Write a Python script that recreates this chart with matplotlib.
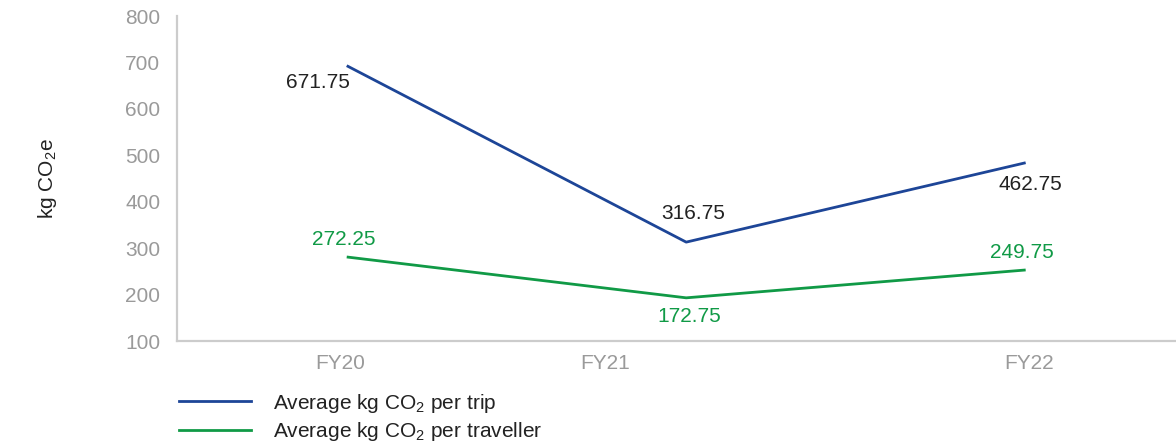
import matplotlib

matplotlib.use("Agg")

import matplotlib.pyplot as plt
import numpy as np
from matplotlib.lines import Line2D

plt.rcParams.update(
    {
        "font.family": ["Liberation Sans", "DejaVu Sans"],
        "font.size": 15,
        "mathtext.default": "regular",
    }
)

# data
years = ["FY20", "FY21", "FY22"]
trip_line = [693, 313, 484]          # where the blue line is drawn
traveller_line = [281, 193, 253]     # where the green line is drawn
trip_labels = [671.75, 316.75, 462.75]
traveller_labels = [272.25, 172.75, 249.75]

BLUE = "#1d4597"
GREEN = "#109a46"
GRID = "#cccccc"
TICK = "#9a9a9a"
TEXT = "#222222"
FS = 15

fig = plt.figure(figsize=(11.76, 4.46), dpi=100)
ax = fig.add_axes([0.1505, 0.2354, 0.866, 0.7287])

x = np.arange(len(years))
ax.plot(x, trip_line, color=BLUE, lw=2.0, solid_capstyle="butt")
ax.plot(x, traveller_line, color=GREEN, lw=2.0, solid_capstyle="butt")

# label offsets in pixels (dx, dy), alignment
trip_off = [((3, -17), "right"), ((7, 29), "center"), ((5, -22), "center")]
trav_off = [((-3, 17), "center"), ((3, -19), "center"), ((-4, 17), "center")]
for xi, yv, lab, (off, ha) in zip(x, trip_line, trip_labels, trip_off):
    ax.annotate(f"{lab:.2f}", (xi, yv), xytext=off, textcoords="offset pixels",
                ha=ha, va="center", color=TEXT, fontsize=FS)
for xi, yv, lab, (off, ha) in zip(x, traveller_line, traveller_labels, trav_off):
    ax.annotate(f"{lab:.2f}", (xi, yv), xytext=off, textcoords="offset pixels",
                ha=ha, va="center", color=GREEN, fontsize=FS)

ax.set_xlim(-0.5, 2.5)
ax.set_ylim(100, 800)
ax.set_yticks(range(100, 801, 100))

# category labels sit off-centre in the original
label_shift = [-0.02, -0.24, 0.01]
ax.set_xticks(x + np.array(label_shift))
ax.set_xticklabels(years)

for side in ["top", "right"]:
    ax.spines[side].set_visible(False)
for side in ["left", "bottom"]:
    ax.spines[side].set_color(GRID)
    ax.spines[side].set_linewidth(1.6)
ax.tick_params(axis="both", length=0, labelcolor=TICK, labelsize=FS)
ax.tick_params(axis="y", pad=12)
ax.tick_params(axis="x", pad=9)

ax.set_ylabel("kg CO$_2$e", color=TEXT, fontsize=FS, labelpad=48)

handles = [
    Line2D([], [], color=BLUE, lw=2.0),
    Line2D([], [], color=GREEN, lw=2.0),
]
fig.legend(
    handles,
    ["Average kg CO$_2$ per trip", "Average kg CO$_2$ per traveller"],
    loc="upper left",
    bbox_to_anchor=(0.152, 0.122),
    frameon=False,
    handlelength=3.45,
    handletextpad=1.06,
    labelspacing=0.25,
    borderaxespad=0,
    borderpad=0,
    fontsize=FS,
    labelcolor=TEXT,
)

fig.savefig("out.png", dpi=100)
